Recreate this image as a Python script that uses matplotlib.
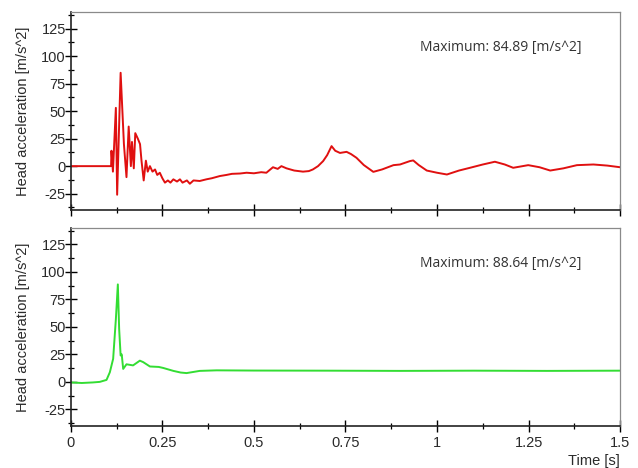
import numpy as np
import matplotlib
matplotlib.use("Agg")
import matplotlib.pyplot as plt
from matplotlib.ticker import MultipleLocator, FuncFormatter

# ---- data (time [s], acceleration [m/s^2]) ----
red_t = [0.0, 0.110, 0.111, 0.115, 0.123, 0.1265, 0.136, 0.145, 0.152, 0.158,
         0.164, 0.167, 0.172, 0.176, 0.183, 0.189, 0.193, 0.199, 0.205, 0.210,
         0.216, 0.223, 0.230, 0.236, 0.243, 0.250, 0.257, 0.265, 0.272, 0.280,
         0.290, 0.298, 0.305, 0.317, 0.325, 0.335, 0.352, 0.370, 0.385, 0.407,
         0.425, 0.440, 0.462, 0.480, 0.500, 0.520, 0.534, 0.552, 0.565, 0.575,
         0.589, 0.610, 0.634, 0.650, 0.661, 0.675, 0.689, 0.700, 0.712, 0.722,
         0.735, 0.753, 0.765, 0.780, 0.800, 0.826, 0.850, 0.881, 0.899, 0.926,
         0.935, 0.950, 0.972, 1.000, 1.027, 1.060, 1.090, 1.125, 1.158, 1.185,
         1.208, 1.249, 1.280, 1.309, 1.345, 1.382, 1.427, 1.465, 1.5]
red_v = [0, 0, 14, -5, 53, -26, 84.89, 20, -10, 36,
         0, 22, -2, 30, 25, 20, 5, -13, 5, -5,
         0, -5, -3, -8, -6, -11, -15, -13, -15, -12,
         -14, -12, -15, -13, -16, -13, -13.5, -12, -11, -9,
         -8, -7, -6.7, -6, -6.5, -5.5, -6, -1, -2.5, 0,
         -2, -4, -5, -4.5, -3, 0, 4.6, 10, 18.2, 14,
         12, 13, 11, 7.6, 1, -5.2, -3, 0.9, 1.5, 4.6,
         5.2, 1, -4, -6, -7.6, -4, -1.5, 1.5, 4, 1.5,
         -1.5, 0.9, -1, -4, -2, 0.9, 1.5, 0.5, -1]

green_t = [0.0, 0.030, 0.060, 0.079, 0.0975, 0.1066, 0.1156, 0.123, 0.1284, 0.132,
           0.136, 0.139, 0.143, 0.152, 0.170, 0.1885, 0.1975, 0.216, 0.240, 0.252,
           0.280, 0.300, 0.316, 0.352, 0.398, 0.5, 0.7, 0.9, 1.1, 1.3, 1.5]
green_v = [-0.5, -1, -0.5, 0, 1.8, 8.8, 21, 57, 88.64, 48,
           24, 25, 11.8, 16, 15, 19.3, 18, 14, 13.6, 12.7,
           10, 8.5, 8, 10, 10.5, 10.3, 10.2, 10, 10.2, 10, 10.2]

max_labels = ["Maximum: 84.89 [m/s^2]", "Maximum: 88.64 [m/s^2]"]

plt.rcParams["font.family"] = ["Liberation Sans", "DejaVu Sans"]

fig = plt.figure(figsize=(6.38, 4.68), dpi=100)
ax1 = fig.add_axes([0.111, 0.551, 0.861, 0.423])
ax2 = fig.add_axes([0.111, 0.090, 0.861, 0.423])

series = [(ax1, red_t, red_v, "#e01010"), (ax2, green_t, green_v, "#33dd33")]
for i, (ax, t, v, col) in enumerate(series):
    ax.plot(t, v, color=col, lw=1.4)
    ax.set_xlim(0, 1.5)
    ax.set_ylim(-40, 140)
    ax.xaxis.set_major_locator(MultipleLocator(0.25))
    ax.xaxis.set_minor_locator(MultipleLocator(0.125))
    ax.yaxis.set_major_locator(MultipleLocator(25))
    ax.yaxis.set_minor_locator(MultipleLocator(12.5))
    ax.tick_params(which="major", direction="inout", length=9, width=1.0,
                   labelsize=10.5, labelcolor="#2a2a2a")
    ax.tick_params(axis="y", which="major", pad=-1)
    ax.tick_params(axis="x", which="major", pad=2.5)
    ax.tick_params(which="minor", direction="inout", length=4.5, width=0.9)
    for s in ("top", "right"):
        ax.spines[s].set_color("#8a8a8a")
        ax.spines[s].set_linewidth(0.9)
    for s in ("left", "bottom"):
        ax.spines[s].set_color("#222222")
        ax.spines[s].set_linewidth(1.2)
    ax.set_ylabel("Head acceleration [m/s^2]", fontsize=10.5, color="#2a2a2a", labelpad=8)
    ax.text(0.635, 0.82, max_labels[i], transform=ax.transAxes, fontsize=10,
            va="center", color="#333333", family=["Open Sans", "DejaVu Sans"])
    ax.yaxis.set_major_formatter(FuncFormatter(lambda y, p: f"{y:g}"))

ax1.tick_params(labelbottom=False)
ax2.xaxis.set_major_formatter(FuncFormatter(lambda x, p: f"{x:g}"))
ax2.set_xlabel("Time [s]", loc="right", fontsize=10.5, color="#2a2a2a", labelpad=3)

fig.savefig("out.png", dpi=100)
